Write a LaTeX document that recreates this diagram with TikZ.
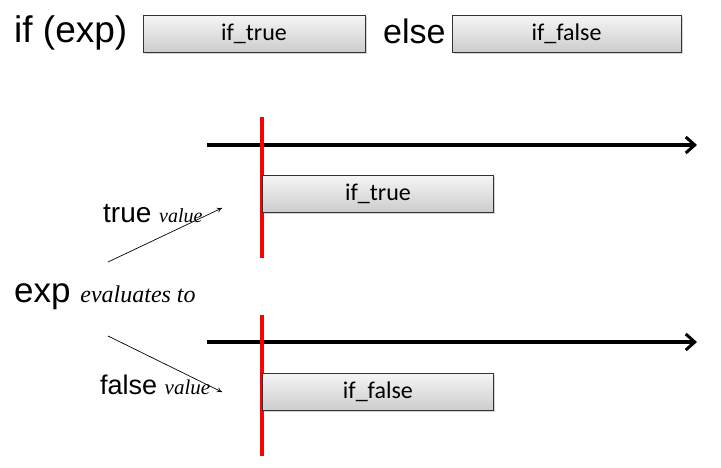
\documentclass[tikz,border=0pt]{standalone}
\usepackage{fontspec}
\setmainfont{Liberation Sans}
\newfontfamily\boxfont{Carlito}
\newfontfamily\timesfont{Liberation Serif}
\usetikzlibrary{arrows.meta,shadows}
\tikzset{
	codebox/.style={draw=black!80, line width=0.9pt, top color=gray!8, bottom color=gray!40,
		drop shadow={shadow xshift=1.5pt, shadow yshift=-1.5pt, opacity=0.35},
		minimum height=37pt, inner sep=0pt, font=\boxfont\fontsize{24}{28}\selectfont},
	timeline/.style={line width=3.5pt, -{Straight Barb[length=9pt,width=16pt,line width=3pt]}},
	moment/.style={red, line width=3.5pt},
	pointer/.style={line width=0.7pt, -{To[length=5pt,width=5pt]}},
	bigword/.style={font=\fontsize{34}{38}\selectfont, inner sep=0pt}
}
\begin{document}
\begin{tikzpicture}[x=1pt,y=-1pt]
	\useasboundingbox (0,0) rectangle (721,467);
	%Linea del if
	\node[bigword, anchor=west, font=\fontsize{37}{40}\selectfont] (ifexp) at (14,33) {if (exp)};
	\node[codebox, minimum width=222pt] (truetop) at (254,34) {if\_true};
	\node[bigword, anchor=west] (else) at (383,31) {else};
	\node[codebox, minimum width=229pt] (falsetop) at (566.5,34) {if\_false};
	%Caso verdadero
	\coordinate (t1s) at (207,145);
	\coordinate (t1e) at (697,145);
	\draw[timeline] (t1s) -- (t1e);
	\coordinate (r1a) at (262,117);
	\coordinate (r1b) at (262,258);
	\draw[moment] (r1a) -- (r1b);
	\node[codebox, minimum width=231pt, anchor=north west] (truebox) at (262,175) {if\_true};
	\node[anchor=base west, inner sep=0pt, font=\fontsize{28}{32}\selectfont] (truelbl) at (103,222)
		{true {\timesfont\itshape\fontsize{20}{24}\selectfont value}};
	%Expresion
	\node[anchor=base west, inner sep=0pt, font=\fontsize{35}{40}\selectfont] (explbl) at (14,302)
		{exp {\timesfont\itshape\fontsize{24}{28}\selectfont evaluates to}};
	%Caso falso
	\coordinate (t2s) at (207,342);
	\coordinate (t2e) at (697,342);
	\draw[timeline] (t2s) -- (t2e);
	\coordinate (r2a) at (262,315);
	\coordinate (r2b) at (262,456);
	\draw[moment] (r2a) -- (r2b);
	\node[codebox, minimum width=231pt, anchor=north west] (falsebox) at (262,373) {if\_false};
	\node[anchor=base west, inner sep=0pt, font=\fontsize{27}{32}\selectfont] (falselbl) at (100,394)
		{false {\timesfont\itshape\fontsize{21}{24}\selectfont value}};
	%Flechas finas
	\coordinate (p1s) at (108,262);
	\coordinate (p1e) at (222,208);
	\draw[pointer] (p1s) -- (p1e);
	\coordinate (p2s) at (108,336);
	\coordinate (p2e) at (222,392);
	\draw[pointer] (p2s) -- (p2e);
\end{tikzpicture}
\end{document}
